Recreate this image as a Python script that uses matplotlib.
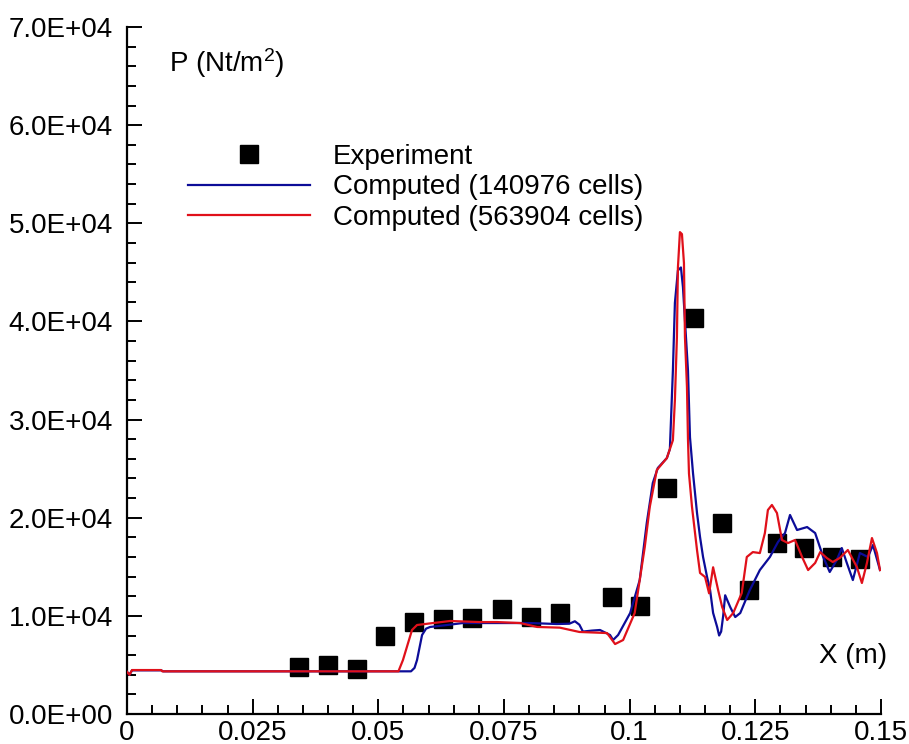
import matplotlib
matplotlib.use("Agg")
import matplotlib.pyplot as plt
from matplotlib.ticker import MultipleLocator, FuncFormatter

plt.rcParams["font.family"] = ["Liberation Sans", "DejaVu Sans"]
plt.rcParams["mathtext.default"] = "regular"

# Experimental wall pressure
exp_x = [0.0342, 0.0400, 0.0458, 0.0513, 0.0571, 0.0629, 0.0686, 0.0746, 0.0803,
         0.0861, 0.0965, 0.1020, 0.1074, 0.1128, 0.1184, 0.1237, 0.1293, 0.1347,
         0.1402, 0.1458]
exp_p = [4800, 5000, 4600, 7900, 9400, 9700, 9800, 10650, 9890,
         10300, 11900, 11000, 23000, 40400, 19450, 12600, 17400, 16900,
         16000, 15800]

# Coarse grid (140976 cells)
coarse_x = [0.0, 0.0005, 0.001, 0.0068, 0.0072, 0.0565, 0.0572, 0.0577, 0.0587, 0.0595,
            0.0603, 0.0637, 0.0668, 0.0736, 0.0802, 0.0855, 0.0880, 0.0891, 0.0900, 0.0907,
            0.0925, 0.0941, 0.0961, 0.0967, 0.0977, 0.1001, 0.1020, 0.1034, 0.1046, 0.1056,
            0.1074, 0.1080, 0.1086, 0.1090, 0.1096, 0.1102, 0.1106, 0.1110, 0.1116, 0.1120,
            0.1126, 0.1134, 0.1140, 0.1146, 0.1154, 0.1160, 0.1166, 0.1174, 0.1178, 0.1182,
            0.1186, 0.1190, 0.1195, 0.1200, 0.1210, 0.1220, 0.1239, 0.1259, 0.1279, 0.1295,
            0.1309, 0.1319, 0.1333, 0.1353, 0.1369, 0.1385, 0.1398, 0.1412, 0.1422, 0.1432,
            0.1444, 0.1458, 0.1474, 0.1484, 0.1498]
coarse_p = [4300, 4000, 4450, 4450, 4350, 4350, 4700, 5500, 8050, 8700,
            8870, 9070, 9270, 9270, 9270, 9170, 9200, 9450, 9100, 8400,
            8500, 8560, 8050, 7540, 8050, 10290, 13650, 19460, 23540, 25070,
            26080, 27000, 35000, 41900, 45200, 45500, 43500, 40100, 35000, 28200,
            24550, 20480, 18030, 16000, 13960, 12630, 10300, 8870, 8000, 8400,
            10000, 12100, 11500, 10900, 9880, 10290, 12630, 14670, 16000, 17520,
            18440, 20280, 18750, 19050, 18440, 16000, 14470, 15690, 16910, 15390,
            13650, 16400, 16000, 17220, 14670]

# Fine grid (563904 cells)
fine_x = [0.0, 0.0005, 0.001, 0.0068, 0.0070, 0.0540, 0.0549, 0.0567, 0.0577, 0.0609,
          0.0643, 0.0702, 0.0736, 0.0782, 0.0816, 0.0861, 0.0900, 0.0955, 0.0971, 0.0987,
          0.1010, 0.1030, 0.1040, 0.1054, 0.1074, 0.1086, 0.1090, 0.1094, 0.1096, 0.1100,
          0.1104, 0.1108, 0.1110, 0.1114, 0.1116, 0.1118, 0.1124, 0.1134, 0.1140, 0.1150,
          0.1158, 0.1166, 0.1176, 0.1184, 0.1194, 0.1206, 0.1223, 0.1233, 0.1245, 0.1259,
          0.1269, 0.1275, 0.1283, 0.1293, 0.1303, 0.1315, 0.1329, 0.1343, 0.1355, 0.1369,
          0.1379, 0.1392, 0.1404, 0.1418, 0.1434, 0.1452, 0.1462, 0.1472, 0.1482, 0.1492,
          0.1498]
fine_p = [4300, 4000, 4480, 4480, 4350, 4350, 5500, 8560, 9070, 9270,
          9480, 9370, 9370, 9270, 8870, 8800, 8360, 8250, 7130, 7540,
          10290, 17000, 21100, 24860, 26080, 27900, 32000, 38400, 45500, 49100,
          48900, 45950, 38400, 33300, 28000, 24500, 21100, 16700, 14370, 13960,
          12300, 14950, 12630, 10900, 9580, 10290, 12330, 16000, 16500, 16400,
          18440, 20790, 21300, 20480, 17730, 17420, 17730, 16000, 14670, 15390,
          16500, 15900, 15490, 15900, 16710, 14980, 13350, 15390, 17930, 16400,
          14670]

labels = ["Experiment", "Computed (140976 cells)", "Computed (563904 cells)"]
blue = "#0c0c98"
red = "#e0101a"
fs = 20

fig = plt.figure(figsize=(9.09, 7.44), dpi=100)
ax = fig.add_axes([0.1397, 0.0403, 0.8295, 0.9234])

h_exp, = ax.plot(exp_x, exp_p, linestyle="none", marker="s", markersize=12.5,
                 color="black", label=labels[0], zorder=2)
h_c, = ax.plot(coarse_x, coarse_p, color=blue, lw=1.6, label=labels[1], zorder=3)
h_f, = ax.plot(fine_x, fine_p, color=red, lw=1.6, label=labels[2], zorder=4)

ax.set_xlim(0, 0.15)
ax.set_ylim(0, 70000)

for s in ("top", "right"):
    ax.spines[s].set_visible(False)
for s in ("left", "bottom"):
    ax.spines[s].set_linewidth(1.6)

ax.xaxis.set_major_locator(MultipleLocator(0.025))
ax.xaxis.set_minor_locator(MultipleLocator(0.005))
ax.yaxis.set_major_locator(MultipleLocator(10000))
ax.yaxis.set_minor_locator(MultipleLocator(2000))

def xfmt(v, pos):
    s = f"{v:.3f}".rstrip("0").rstrip(".")
    return s

def yfmt(v, pos):
    m, e = f"{v:.1E}".split("E")
    e_sign = e[0]
    e_num = e[1:].zfill(2)
    return f"{m}E{e_sign}{e_num}"

ax.xaxis.set_major_formatter(FuncFormatter(xfmt))
ax.yaxis.set_major_formatter(FuncFormatter(yfmt))

ax.tick_params(which="both", direction="in", width=1.4, labelsize=fs)
ax.tick_params(which="major", length=11)
ax.tick_params(which="minor", length=6.5)
ax.tick_params(axis="y", which="major", pad=10)
ax.tick_params(axis="x", which="major", pad=4)

ax.text(0.056, 0.947, "P (Nt/m$^2$)", transform=ax.transAxes, fontsize=fs,
        ha="left", va="center")
ax.text(1.008, 0.085, "X (m)", transform=ax.transAxes, fontsize=fs,
        ha="right", va="center")

leg = ax.legend(handles=[h_exp, h_c, h_f], loc="upper left",
                bbox_to_anchor=(0.207, 0.807), bbox_transform=fig.transFigure,
                frameon=False, fontsize=fs, handlelength=4.4,
                handletextpad=0.8, labelspacing=0.17, borderpad=0,
                borderaxespad=0)

fig.savefig("out.png", dpi=100)
